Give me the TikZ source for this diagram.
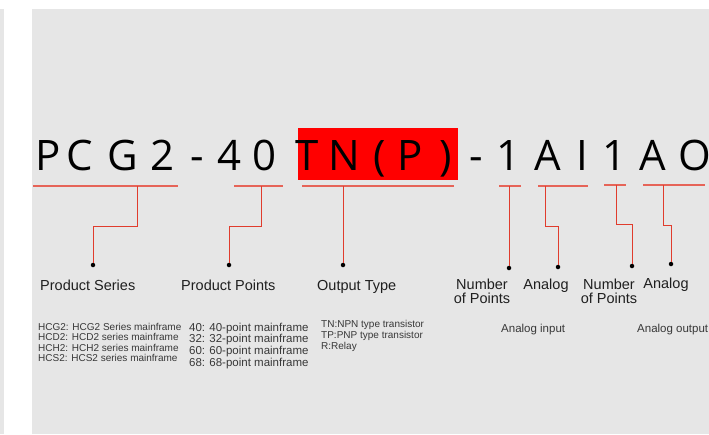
\documentclass[tikz,border=0pt]{standalone}
\usepackage{fontspec}
\setmainfont{Liberation Sans}
\newfontfamily\codefont{Open Sans}
\usetikzlibrary{positioning}

\definecolor{panelgray}{RGB}{230,230,230}
\definecolor{leadred}{RGB}{224,60,45}
\definecolor{linered}{RGB}{230,100,88}

\begin{document}
\begin{tikzpicture}[x=1pt, y=-1pt]

% Define styles
\tikzstyle{panel} = [fill=panelgray, draw=none]
\tikzstyle{codechar} = [anchor=base, inner sep=0pt, font=\codefont\fontsize{42}{42}\selectfont]
\tikzstyle{underline} = [draw=linered, line width=1.5pt]
\tikzstyle{leader} = [draw=leadred, line width=0.9pt]
\tikzstyle{dot} = [circle, fill=black, inner sep=0pt, minimum size=4.5pt]
\tikzstyle{field} = [anchor=base west, inner sep=0pt, text=black!88, font=\fontsize{14.5}{14}\selectfont]
\tikzstyle{twofield} = [anchor=north, align=center, inner sep=0pt, text=black!88, font=\fontsize{14.5}{14}\selectfont]
\tikzstyle{detail} = [anchor=north west, align=left, inner sep=0pt, text=black!78]

% Background
\useasboundingbox (0,0) rectangle (709,434);
\fill [panel] (0,9) rectangle (4,434);
\fill [panel] (32,9) rectangle (709,434);

% Highlight of the output type
\fill [red] (298,128) rectangle (458,180);

% Model code
\foreach \x/\c in {48/P,80/C,123/G,163/2,197/-,230/4,265/0,307/T,344/N,380/{(},410/P,446/{)},476/-,509/1,548/A,582/I,614/1,653/A,695/O}
  \node [codechar] (ch\x) at (\x,170) {\c};

% Underlines
\coordinate (ser_a) at (33,186);   \coordinate (ser_b) at (178,186);  \coordinate (ser_t) at (137,186);
\coordinate (pts_a) at (234,186);  \coordinate (pts_b) at (283,186);  \coordinate (pts_t) at (261,186);
\coordinate (out_a) at (302,186);  \coordinate (out_b) at (454,186);  \coordinate (out_t) at (343,186);
\coordinate (ainn_a) at (499,186); \coordinate (ainn_b) at (521,186); \coordinate (ainn_t) at (509,186);
\coordinate (ain_a) at (538,186);  \coordinate (ain_b) at (588,186);  \coordinate (ain_t) at (545,186);
\coordinate (aoutn_a) at (604,185); \coordinate (aoutn_b) at (626,185); \coordinate (aoutn_t) at (616,185);
\coordinate (aout_a) at (643,185); \coordinate (aout_b) at (705,185); \coordinate (aout_t) at (663,185);

\draw [underline] (ser_a) -- (ser_b);
\draw [underline] (pts_a) -- (pts_b);
\draw [underline] (out_a) -- (out_b);
\draw [underline] (ainn_a) -- (ainn_b);
\draw [underline] (ain_a) -- (ain_b);
\draw [underline] (aoutn_a) -- (aoutn_b);
\draw [underline] (aout_a) -- (aout_b);

% Dots
\node (ser_dot) [dot] at (93,265) {};
\node (pts_dot) [dot] at (229,265) {};
\node (out_dot) [dot] at (343,265) {};
\node (ainn_dot) [dot] at (509,268) {};
\node (ain_dot) [dot] at (558,267) {};
\node (aoutn_dot) [dot] at (632,266) {};
\node (aout_dot) [dot] at (671,264) {};

% Leaders
\draw [leader] (ser_t) -- ++(0,40) -| (ser_dot);
\draw [leader] (pts_t) -- ++(0,40) -| (pts_dot);
\draw [leader] (out_t) -- (out_dot);
\draw [leader] (ainn_t) -- (ainn_dot);
\draw [leader] (ain_t) -- ++(0,40) -| (ain_dot);
\draw [leader] (aoutn_t) -- ++(0,39) -| (aoutn_dot);
\draw [leader] (aout_t) -- ++(0,40) -| (aout_dot);

% Field names
\node (ser_lbl) [field] at (40,290) {Product Series};
\node (pts_lbl) [field] at (181,290) {Product Points};
\node (out_lbl) [field] at (317,290) {Output Type};
\node (ainn_lbl) [twofield] at (482,278.5) {Number\\of Points};
\node (ain_lbl) [field, anchor=base] at (546,289) {Analog};
\node (aoutn_lbl) [twofield] at (609,278.5) {Number\\of Points};
\node (aout_lbl) [field, anchor=base] at (666,288) {Analog};

% Field values
\node (ser_txt) [detail, font=\fontsize{10}{10.3}\selectfont] at (38,323) {
HCG2: HCG2 Series mainframe\\
HCD2: HCD2 series mainframe\\
HCH2: HCH2 series mainframe\\
HCS2: HCS2 series mainframe};
\node (pts_txt) [detail, font=\fontsize{11.5}{11.7}\selectfont] at (189,322.5) {
40: 40-point mainframe\\
32: 32-point mainframe\\
60: 60-point mainframe\\
68: 68-point mainframe};
\node (out_txt) [detail, font=\fontsize{10}{10.7}\selectfont] at (321,320.5) {
TN:NPN type transistor\\
TP:PNP type transistor\\
R:Relay};
\node (ain_txt) [detail, anchor=base west, font=\fontsize{11.5}{11.7}\selectfont] at (501,332) {Analog input};
\node (aout_txt) [detail, anchor=base west, font=\fontsize{11.5}{11.7}\selectfont] at (637,332) {Analog output};

\end{tikzpicture}
\end{document}
